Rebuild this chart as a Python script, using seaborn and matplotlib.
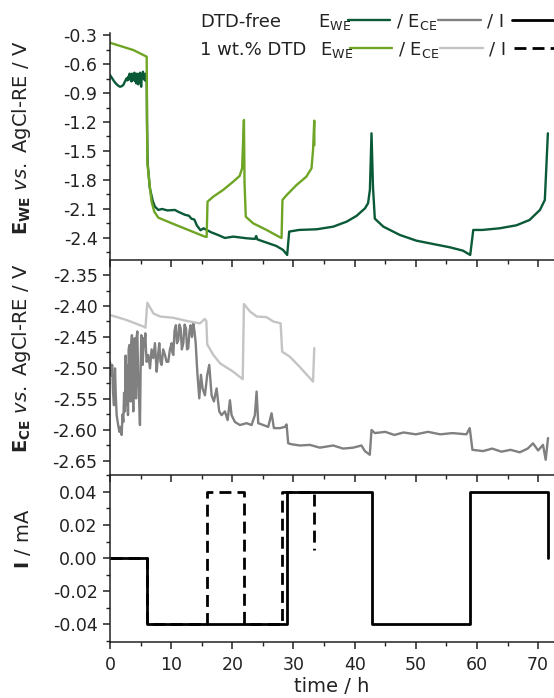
import numpy as np
import pandas as pd
import seaborn as sns
import matplotlib.pyplot as plt
from matplotlib.lines import Line2D
from matplotlib.ticker import MultipleLocator, FormatStrFormatter

# ---------------- data (time in h) ----------------
# DTD-free working electrode potential (V)
t_we_free = [0, 0.27, 0.54, 0.8, 1.09, 1.36, 1.63, 1.9, 2.18, 2.45, 2.72, 2.85, 3.0, 3.1, 3.2,
             3.3, 3.4, 3.5, 3.6, 3.7, 3.8, 3.9, 4.0, 4.1, 4.2, 4.3, 4.4, 4.5, 4.6, 4.7, 4.8, 4.9,
             5.0, 5.1, 5.2, 5.3, 5.4, 5.5, 5.6, 5.7, 5.8, 5.9, 6.0,
             6.05, 6.15, 6.5, 7.0, 7.35, 7.9, 8.5, 9.4, 10.6, 11.2, 12.25, 12.9, 13.3, 13.8,
             14.2, 14.8, 15.3, 15.9, 16.5, 17.7, 18.8, 20.15, 21.3, 22.3, 23.7, 23.9, 24.1, 25.6,
             27.2, 28.3, 28.97, 29.3, 30.9, 33.8, 36.5, 38.7, 40.3, 41.7, 42.2, 42.5, 42.76, 43.0,
             43.3, 44.7, 47.4, 50.1, 52.8, 55.6, 57.7, 58.9, 59.4, 60.9, 63.7, 66.45, 68.6, 70.3,
             71.1, 71.6]
e_we_free = [-0.714, -0.74, -0.766, -0.79, -0.81, -0.825, -0.835, -0.83, -0.817, -0.78, -0.748,
             -0.77, -0.73, -0.76, -0.70, -0.75, -0.72, -0.78, -0.70, -0.77, -0.71, -0.75, -0.69,
             -0.78, -0.72, -0.80, -0.70, -0.76, -0.81, -0.71, -0.74, -0.69, -0.79, -0.835, -0.72,
             -0.70, -0.68, -0.75, -0.73, -0.77, -0.70, -0.74, -0.731,
             -1.2, -1.62, -1.88, -2.02, -2.076, -2.11, -2.10, -2.115, -2.11, -2.13, -2.16, -2.17,
             -2.20, -2.21, -2.27, -2.32, -2.30, -2.32, -2.34, -2.37, -2.40, -2.386, -2.395,
             -2.403, -2.41, -2.38, -2.415, -2.448, -2.483, -2.524, -2.576, -2.334, -2.317, -2.31,
             -2.283, -2.231, -2.172, -2.093, -2.04, -1.90, -1.317, -1.87, -2.20, -2.283, -2.369,
             -2.428, -2.462, -2.497, -2.531, -2.576, -2.317, -2.317, -2.30, -2.269, -2.214,
             -2.11, -2.007, -1.317]

# 1 wt.% DTD working electrode potential (V)
t_we_dtd = [0, 3.8, 6.0, 6.05, 6.1, 6.2, 6.54, 6.8, 7.24, 7.9, 10.1, 12.8, 15.5, 15.8, 15.95,
            16.9, 18.5, 20.15, 21.2, 21.6, 21.9, 22.0, 22.2, 23.4, 25.6, 27.8, 28.05, 28.2, 28.9,
            30.5, 32.1, 32.95, 33.2, 33.4, 33.42]
e_we_dtd = [-0.38, -0.455, -0.524, -1.1, -1.61, -1.68, -1.886, -2.024, -2.128, -2.19, -2.248,
            -2.317, -2.386, -2.39, -2.024, -1.972, -1.903, -1.817, -1.758, -1.679, -1.179, -1.83,
            -2.18, -2.248, -2.317, -2.393, -2.40, -2.007, -1.955, -1.852, -1.766, -1.679, -1.49,
            -1.186, -1.44]

# DTD-free counter electrode potential (V)
t_ce_free = [0, 0.2, 0.35, 0.5, 0.65, 0.82, 0.95, 1.09, 1.3, 1.53, 1.7, 1.91, 2.05, 2.18, 2.3,
             2.45, 2.55, 2.65, 2.72, 2.83, 2.94, 3.05, 3.16, 3.27, 3.38, 3.48, 3.59, 3.7, 3.81,
             3.92, 4.03, 4.14, 4.25, 4.36, 4.47, 4.58, 4.68, 4.79, 4.90, 5.01, 5.12, 5.23, 5.34,
             5.45, 5.56, 5.67, 5.77, 5.88, 5.99,
             6.26, 6.4, 6.54, 6.8, 7.08, 7.35, 7.63, 7.85, 8.06, 8.25, 8.44, 8.7, 8.99, 9.25,
             9.53, 9.8, 10.08, 10.2, 10.35, 10.55, 10.78, 10.95, 11.17, 11.35, 11.55, 11.75,
             11.98, 12.2, 12.42, 12.6, 12.80, 13.0, 13.18, 13.4, 13.62, 13.8, 14.0,
             14.27, 14.6, 14.87, 15.14, 15.52, 15.9, 16.23, 16.61, 16.99,
             17.43, 17.86, 18.25, 18.79, 19.23, 19.61, 19.88, 20.42, 21.24, 22.33, 23.15, 23.69,
             23.97, 24.24, 25.05, 25.87, 26.42, 26.8, 27.78, 28.6, 28.87, 29.14, 29.68, 31.05,
             32.68, 34.31, 36.49, 38.13, 39.76, 41.12, 41.67, 42.48, 42.76, 43.3, 45.0, 46.5, 48.0,
             50.0, 52.0, 54.0, 56.0, 58.28, 58.82, 59.26, 61.0, 62.5, 64.0, 65.5, 67.0, 68.3,
             69.17, 70.0, 70.8, 71.24, 71.62]
e_ce_free = [-2.490, -2.512, -2.495, -2.540, -2.560, -2.5005, -2.545, -2.576, -2.590, -2.603,
             -2.595, -2.608, -2.575, -2.587, -2.540, -2.570, -2.48, -2.56, -2.495, -2.50, -2.576,
             -2.47, -2.463, -2.53, -2.554, -2.46, -2.447, -2.52, -2.570, -2.47, -2.452, -2.50,
             -2.549, -2.45, -2.441, -2.50, -2.533, -2.56, -2.592, -2.50, -2.447, -2.46, -2.495,
             -2.47, -2.452, -2.46, -2.444, -2.47, -2.490,
             -2.479, -2.49, -2.5005, -2.47, -2.484, -2.46, -2.506, -2.48, -2.460, -2.49, -2.495,
             -2.47, -2.479, -2.49, -2.490, -2.47, -2.460, -2.475, -2.479, -2.44, -2.431, -2.46,
             -2.455, -2.43, -2.436, -2.47, -2.460, -2.43, -2.436, -2.47, -2.468, -2.44, -2.431,
             -2.45, -2.428, -2.44, -2.458,
             -2.506, -2.549, -2.511, -2.533, -2.544, -2.511, -2.495, -2.544, -2.554,
             -2.533, -2.570, -2.576, -2.570, -2.584, -2.552, -2.576, -2.587, -2.592, -2.589,
             -2.592, -2.576, -2.538, -2.589, -2.592, -2.595, -2.573, -2.597, -2.597, -2.595,
             -2.591, -2.6215, -2.623, -2.625, -2.624, -2.6285, -2.625, -2.630, -2.6285, -2.625,
             -2.634, -2.640, -2.600, -2.605, -2.603, -2.608, -2.604, -2.607, -2.603, -2.607,
             -2.605, -2.607, -2.597, -2.632, -2.634, -2.630, -2.635, -2.632, -2.636, -2.630,
             -2.6215, -2.633, -2.624, -2.648, -2.613]

# 1 wt.% DTD counter electrode potential (V)
t_ce_dtd = [0, 2.7, 5.45, 5.8, 6.1, 7.1, 8.2, 10.35, 12.5, 14.7, 15.5, 15.75, 15.9, 16.9, 18.0,
            20.15, 21.7, 21.9, 22.9, 24.0, 25.6, 26.7, 27.9, 28.15, 29.4, 31.0, 33.2, 33.4]
e_ce_dtd = [-2.4145, -2.4226, -2.433, -2.435, -2.3946, -2.412, -2.417, -2.419, -2.424, -2.428,
            -2.421, -2.424, -2.462, -2.479, -2.4925, -2.506, -2.518, -2.3968, -2.409, -2.417,
            -2.418, -2.425, -2.428, -2.4737, -2.4817, -2.498, -2.522, -2.468]

# currents (mA)
t_i_free = [0, 6.1, 6.1, 28.9, 28.9, 42.8, 42.8, 58.9, 58.9, 71.6, 71.6]
i_free = [0, 0, -0.04, -0.04, 0.04, 0.04, -0.04, -0.04, 0.04, 0.04, 0.0]
t_i_dtd = [0, 6.1, 6.1, 15.8, 15.8, 21.9, 21.9, 28.1, 28.1, 33.4, 33.4]
i_dtd = [0, 0, -0.04, -0.04, 0.04, 0.04, -0.04, -0.04, 0.04, 0.04, 0.005]

# ---------------- styling ----------------
C_WE_FREE = "#0b5a37"
C_WE_DTD = "#6ea524"
C_CE_FREE = "#808080"
C_CE_DTD = "#c4c4c4"
DASH = (0, (4.3, 2.2))

sns.set_style("ticks")
plt.rcParams.update({
    "font.family": ["DejaVu Sans"],
    "axes.unicode_minus": False,
    "mathtext.fontset": "dejavusans",
    "axes.linewidth": 1.1,
    "xtick.major.width": 1.1, "ytick.major.width": 1.1,
    "xtick.minor.width": 1.0, "ytick.minor.width": 1.0,
    "xtick.major.size": 5, "ytick.major.size": 5,
    "xtick.minor.size": 2.8, "ytick.minor.size": 2.8,
    "xtick.direction": "out", "ytick.direction": "out",
    "xtick.color": "#222222", "ytick.color": "#222222",
    "axes.edgecolor": "#222222",
    "xtick.labelsize": 12.5, "ytick.labelsize": 12.5,
    "text.color": "#222222", "axes.labelcolor": "#222222",
})

W, H = 554, 698
fig = plt.figure(figsize=(W / 100, H / 100), dpi=100)
L = 110 / W
Wd = (W - 110) / W
ax1 = fig.add_axes([L, 1 - 260 / H, Wd, (260 - 33) / H])
ax2 = fig.add_axes([L, 1 - 475 / H, Wd, (475 - 260) / H])
ax3 = fig.add_axes([L, 1 - 642 / H, Wd, (642 - 475) / H])

kw = dict(sort=False, estimator=None, legend=False)
sns.lineplot(x=t_we_free, y=e_we_free, color=C_WE_FREE, lw=1.7, ax=ax1, **kw)
sns.lineplot(x=t_we_dtd, y=e_we_dtd, color=C_WE_DTD, lw=1.7, ax=ax1, **kw)
sns.lineplot(x=t_ce_free, y=e_ce_free, color=C_CE_FREE, lw=1.7, ax=ax2, **kw)
sns.lineplot(x=t_ce_dtd, y=e_ce_dtd, color=C_CE_DTD, lw=1.7, ax=ax2, **kw)
sns.lineplot(x=t_i_free, y=i_free, color="black", lw=2.0, ax=ax3, **kw)
sns.lineplot(x=t_i_dtd, y=i_dtd, color="black", lw=2.0, linestyle=DASH, ax=ax3, **kw)

for ax in (ax1, ax2, ax3):
    ax.set_facecolor("none")
    ax.set_xlim(0, 72.6)
    ax.xaxis.set_major_locator(MultipleLocator(10))
    ax.xaxis.set_minor_locator(MultipleLocator(5))
    for s in ("top", "right"):
        ax.spines[s].set_visible(False)
    ax.set_xlabel("")
    ax.tick_params(axis="y", which="both", pad=4)

ax1.set_ylim(-2.628, -0.279)
ax1.yaxis.set_major_locator(MultipleLocator(0.3))
ax1.yaxis.set_minor_locator(MultipleLocator(0.15))
ax1.yaxis.set_major_formatter(FormatStrFormatter("%.1f"))
ax1.tick_params(axis="x", labelbottom=False)

ax2.set_ylim(-2.6726, -2.3258)
ax2.yaxis.set_major_locator(MultipleLocator(0.05))
ax2.yaxis.set_minor_locator(MultipleLocator(0.025))
ax2.yaxis.set_major_formatter(FormatStrFormatter("%.2f"))
ax2.tick_params(axis="x", labelbottom=False)

ax3.set_ylim(-0.0509, 0.0503)
ax3.yaxis.set_major_locator(MultipleLocator(0.02))
ax3.yaxis.set_minor_locator(MultipleLocator(0.01))
ax3.yaxis.set_major_formatter(FormatStrFormatter("%.2f"))
ax3.tick_params(axis="x", pad=5)
ax3.set_xlabel("time / h", fontsize=14, labelpad=2)

ax1.set_ylabel(r"$\mathbf{E_{WE}}$ $\mathit{vs.}$ AgCl-RE / V", fontsize=14)
ax2.set_ylabel(r"$\mathbf{E_{CE}}$ $\mathit{vs.}$ AgCl-RE / V", fontsize=14)
ax3.set_ylabel(r"$\mathbf{I}$ / mA", fontsize=14)
ax1.yaxis.set_label_coords((33 - 110) / (W - 110), (260 - 138) / (260 - 33))
ax2.yaxis.set_label_coords((33 - 110) / (W - 110), (475 - 358) / (475 - 260))
ax3.yaxis.set_label_coords((33 - 110) / (W - 110), (642 - 539) / (642 - 475))

# ---------------- custom legend (figure coordinates) ----------------
def fx(px):
    return px / W

def fy(py):
    return 1 - py / H

FS = 13
fig.text(fx(200), fy(22), "DTD-free", fontsize=FS, va="center", ha="left")
fig.text(fx(200), fy(50), "1 wt.% DTD", fontsize=FS, va="center", ha="left")
rows = [
    (22, 318, C_WE_FREE, C_CE_FREE, "-"),
    (50, 320, C_WE_DTD, C_CE_DTD, DASH),
]
for yy, x0, cwe, cce, ls in rows:
    fig.text(fx(x0), fy(yy), r"E$_\mathregular{WE}$", fontsize=FS, va="center", ha="left")
    fig.add_artist(Line2D([fx(x0 + 30), fx(x0 + 72)], [fy(yy - 2), fy(yy - 2)], color=cwe, lw=1.7))
    fig.text(fx(x0 + 78), fy(yy), r"/ E$_\mathregular{CE}$", fontsize=FS, va="center", ha="left")
    fig.add_artist(Line2D([fx(x0 + 120), fx(x0 + 163)], [fy(yy - 2), fy(yy - 2)], color=cce, lw=1.7))
    fig.text(fx(x0 + 169), fy(yy), "/ I", fontsize=FS, va="center", ha="left")
    fig.add_artist(Line2D([fx(x0 + 194), fx(554)], [fy(yy - 2), fy(yy - 2)], color="black", lw=2.0, linestyle=ls))

fig.savefig("out.png", dpi=100)
